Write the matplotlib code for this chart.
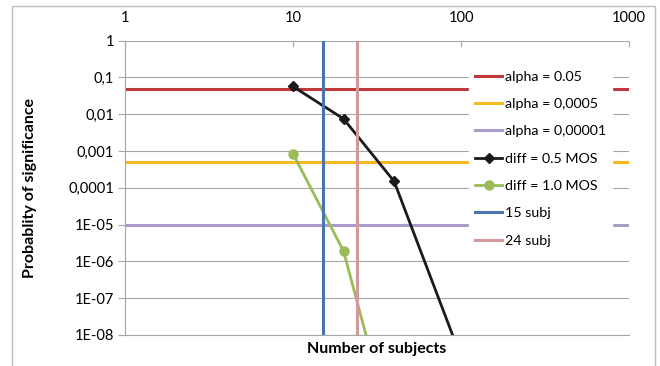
import matplotlib
matplotlib.use("Agg")
import matplotlib.pyplot as plt
from matplotlib.patches import Rectangle
from matplotlib.ticker import FixedLocator, NullLocator

plt.rcParams['font.family'] = ['Lato', 'DejaVu Sans']

# Data
alpha_levels = [0.05, 0.0005, 0.00001]
alpha_labels = ["alpha = 0.05", "alpha = 0,0005", "alpha = 0,00001"]
alpha_colors = ["#C0373C", "#F6BA20", "#AA9CCA"]

subjects_05 = [10, 20, 40, 100]
prob_05 = [0.057, 0.0075, 0.00015, 2.5e-9]

subjects_10 = [10, 20, 40]
prob_10 = [0.00085, 1.9e-6, 1.4e-11]

vlines = [15, 24]
vline_labels = ["15 subj", "24 subj"]
vline_colors = ["#4A74AE", "#D49A9B"]

x_ticks = [1, 10, 100, 1000]
x_ticklabels = ["1", "10", "100", "1000"]
y_ticks = [1, 0.1, 0.01, 0.001, 0.0001, 1e-5, 1e-6, 1e-7, 1e-8]
y_ticklabels = ["1", "0,1", "0,01", "0,001", "0,0001", "1E-05", "1E-06", "1E-07", "1E-08"]

fig = plt.figure(figsize=(6.6, 3.66), dpi=100)
ax = fig.add_axes([125/660, 1-335/366, (629-125)/660, (335-40.7)/366])

ax.set_xscale('log')
ax.set_yscale('log')
ax.set_xlim(1, 1000)
ax.set_ylim(1e-8, 1)

grid_c = "#A6A6A6"
for yv in y_ticks:
    ax.axhline(yv, color=grid_c, lw=0.8, zorder=1)

handles = []
for lvl, lab, c in zip(alpha_levels, alpha_labels, alpha_colors):
    h = ax.axhline(lvl, color=c, lw=2.2, label=lab, zorder=2)
    handles.append(h)

h1, = ax.plot(subjects_05, prob_05, color="#1A1A1A", lw=2.0, marker='D',
              markersize=5, label="diff = 0.5 MOS", zorder=3, clip_on=True)
h2, = ax.plot(subjects_10, prob_10, color="#9BBB59", lw=2.0, marker='o',
              markersize=6.5, label="diff = 1.0 MOS", zorder=3, clip_on=True)
handles += [h1, h2]

for xv, lab, c in zip(vlines, vline_labels, vline_colors):
    h = ax.axvline(xv, color=c, lw=2.2, label=lab, zorder=4)
    handles.append(h)

# Axes styling
for s in ['top', 'right']:
    ax.spines[s].set_visible(False)
for s in ['left', 'bottom']:
    ax.spines[s].set_color(grid_c)
    ax.spines[s].set_linewidth(0.8)

ax.yaxis.set_major_locator(FixedLocator(y_ticks))
ax.set_yticklabels(y_ticklabels)
ax.yaxis.set_minor_locator(NullLocator())
ax.xaxis.set_major_locator(FixedLocator(x_ticks))
ax.set_xticklabels(x_ticklabels)
ax.xaxis.set_minor_locator(NullLocator())

ax.xaxis.tick_top()
ax.tick_params(axis='x', direction='in', length=4, color=grid_c, width=0.8,
               labelsize=10.5, pad=11, labeltop=True, labelbottom=False)
ax.tick_params(axis='y', direction='out', length=5, color=grid_c, width=0.8,
               labelsize=10.5, pad=3)

fig.text(377/660, 1-349/366, "Number of subjects", ha='center', va='center',
         fontsize=11.5, fontweight='bold')
fig.text(30/660, 1-188/366, "Probablity of significance", ha='center', va='center',
         rotation=90, fontsize=11.5, fontweight='bold')

leg = ax.legend(handles=handles, loc='upper left',
                bbox_to_anchor=(469.5/660, 1-65/366), bbox_transform=fig.transFigure,
                frameon=True, fancybox=False, framealpha=1, edgecolor='white',
                facecolor='white', fontsize=10.3, handlelength=1.9,
                handletextpad=0.2, labelspacing=1.07, borderpad=0.4,
                borderaxespad=0)
leg.set_zorder(10)

fig.patches.append(Rectangle((12/660, -0.05), 643/660, 1.05 - 6/366,
                             transform=fig.transFigure, fill=False,
                             edgecolor="#BFBFBF", lw=1.0))

fig.savefig("out.png", dpi=100)
